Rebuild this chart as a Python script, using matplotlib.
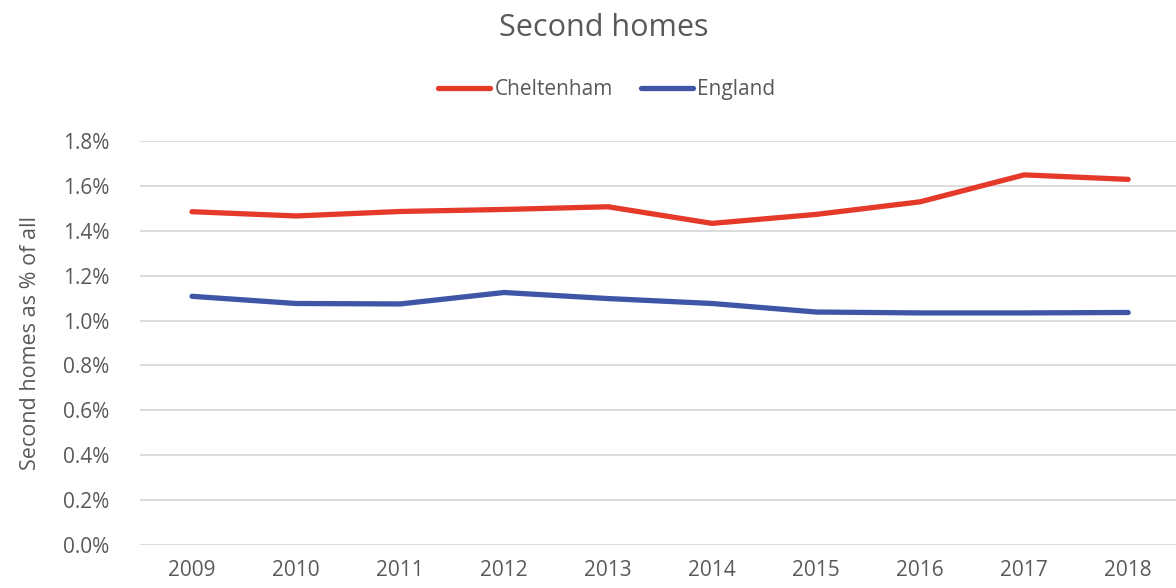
import matplotlib
matplotlib.use("Agg")
import matplotlib.pyplot as plt

years = ["2009", "2010", "2011", "2012", "2013", "2014", "2015", "2016", "2017", "2018"]
cheltenham = [1.485, 1.466, 1.486, 1.495, 1.507, 1.433, 1.473, 1.529, 1.649, 1.629]
england = [1.108, 1.076, 1.074, 1.125, 1.098, 1.076, 1.038, 1.034, 1.034, 1.036]
yticks = [0.0, 0.2, 0.4, 0.6, 0.8, 1.0, 1.2, 1.4, 1.6, 1.8]

plt.rcParams['font.family'] = ['Open Sans', 'DejaVu Sans']
grey = '#595959'

fig = plt.figure(figsize=(11.76, 5.88), dpi=100)
ax = fig.add_axes([140 / 1176, 43 / 588, 1036 / 1176, 404 / 588])

x = list(range(len(years)))
l1, = ax.plot(x, cheltenham, color='#E5392A', lw=3.8, solid_capstyle='round',
              solid_joinstyle='round', label='Cheltenham', zorder=3)
l2, = ax.plot(x, england, color='#3F56A6', lw=3.8, solid_capstyle='round',
              solid_joinstyle='round', label='England', zorder=3)

ax.set_xlim(-0.5, 9.46)
ax.set_ylim(0, 1.8)
ax.set_yticks(yticks)
ax.set_yticklabels([f"{v:.1f}%" for v in yticks])
ax.set_xticks(x)
ax.set_xticklabels(years)
ax.tick_params(axis='both', length=0, labelsize=15, colors=grey)
ax.tick_params(axis='y', pad=22)
ax.tick_params(axis='x', pad=11)
ax.grid(axis='y', color='#D9D9D9', lw=1.3)
ax.set_axisbelow(True)
for s in ax.spines.values():
    s.set_visible(False)

ax.set_ylabel('Second homes as % of all', fontsize=15.5, color=grey, labelpad=16)

fig.text(0.513, 0.953, 'Second homes', ha='center', va='center', fontsize=22, color=grey)
fig.legend(handles=[l1, l2], loc='center', bbox_to_anchor=(0.516, 0.848), ncol=2,
           frameon=False, fontsize=15, labelcolor=grey, handlelength=2.5,
           handletextpad=0.2, columnspacing=1.35)

fig.savefig('out.png', dpi=100)
